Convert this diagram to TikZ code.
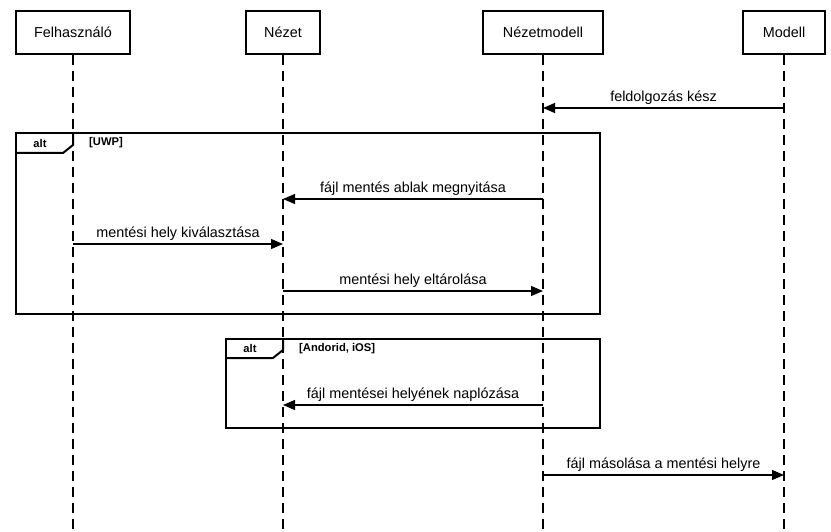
\documentclass[tikz,border=0pt]{standalone}
\usepackage{fontspec}
\setmainfont{Liberation Sans}
\usetikzlibrary{arrows.meta}
\tikzset{
    actor/.style={draw, line width=2pt, minimum height=43pt, inner sep=0pt, font=\fontsize{14.4}{16}\selectfont},
    lifeline/.style={line width=1.1pt, dash pattern=on 10pt off 6pt},
    msg/.style={line width=1.1pt, -{Triangle[length=12pt,width=10pt]}},
    msglabel/.style={above, inner sep=3pt, font=\fontsize{14.4}{16}\selectfont},
    frame/.style={line width=2pt},
    tag/.style={inner sep=0pt, font=\bfseries\fontsize{11.2}{13}\selectfont},
    guard/.style={tag, anchor=west}
}
\begin{document}
\begin{tikzpicture}[x=1pt,y=-1pt]
    \useasboundingbox (0,0) rectangle (831,532);

    \node[actor, minimum width=114pt] (felh) at (73,32.5) {Felhasználó};
    \node[actor, minimum width=74pt] (nezet) at (283,32.5) {Nézet};
    \node[actor, minimum width=120pt] (nmodell) at (543,32.5) {Nézetmodell};
    \node[actor, minimum width=82pt] (modell) at (784,32.5) {Modell};

    \coordinate (bottom) at (0,532);
    \foreach \a in {felh,nezet,nmodell,modell} {
        \draw[lifeline] (\a.south) -- (\a |- bottom);
    }

    % alt frames
    \draw[frame] (16,133) rectangle (600,314);
    \draw[frame] (16,153) -- (63,153) -- (73,145) -- (73,133);
    \node[tag] (alt1) at (40,143) {alt};
    \node[guard] (g1) at (89,143) {[UWP]};

    \draw[frame] (226,339) rectangle (600,428);
    \draw[frame] (226,358) -- (273,358) -- (283,350) -- (283,339);
    \node[tag] (alt2) at (250,348.5) {alt};
    \node[guard] (g2) at (299,348.5) {[Andorid, iOS]};

    % message rows
    \foreach \r/\y in {r1/108,r2/199,r3/244,r4/291,r5/405,r6/475} {
        \coordinate (\r) at (0,\y);
    }

    \draw[msg] (modell |- r1) -- node[msglabel] {feldolgozás kész} (nmodell |- r1);
    \draw[msg] (nmodell |- r2) -- node[msglabel] {fájl mentés ablak megnyitása} (nezet |- r2);
    \draw[msg] (felh |- r3) -- node[msglabel] {mentési hely kiválasztása} (nezet |- r3);
    \draw[msg] (nezet |- r4) -- node[msglabel] {mentési hely eltárolása} (nmodell |- r4);
    \draw[msg] (nmodell |- r5) -- node[msglabel] {fájl mentései helyének naplózása} (nezet |- r5);
    \draw[msg] (nmodell |- r6) -- node[msglabel] {fájl másolása a mentési helyre} (modell |- r6);
\end{tikzpicture}
\end{document}
